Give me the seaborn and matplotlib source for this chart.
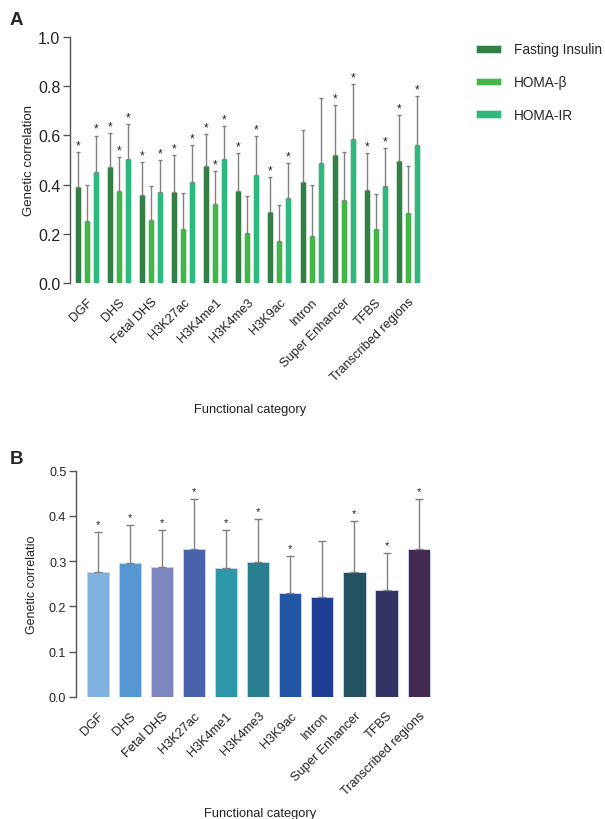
import numpy as np
import pandas as pd
import seaborn as sns
import matplotlib.pyplot as plt

# functional categories (shared by both panels)
categories = ['DGF', 'DHS', 'Fetal DHS', 'H3K27ac', 'H3K4me1', 'H3K4me3',
              'H3K9ac', 'Intron', 'Super Enhancer', 'TFBS', 'Transcribed regions']

# panel A: three traits
traits = ['Fasting Insulin', 'HOMA-β', 'HOMA-IR']
fi_val = [0.389, 0.473, 0.359, 0.371, 0.476, 0.373, 0.290, 0.409, 0.522, 0.378, 0.495]
fi_up = [0.531, 0.608, 0.493, 0.519, 0.607, 0.528, 0.431, 0.622, 0.722, 0.527, 0.682]
fi_sig = [1, 1, 1, 1, 1, 1, 1, 0, 1, 1, 1]
beta_val = [0.253, 0.374, 0.256, 0.220, 0.321, 0.203, 0.170, 0.190, 0.336, 0.220, 0.286]
beta_up = [0.397, 0.512, 0.396, 0.367, 0.455, 0.352, 0.317, 0.400, 0.533, 0.362, 0.477]
beta_sig = [0, 1, 0, 0, 1, 0, 0, 0, 0, 0, 0]
ir_val = [0.451, 0.503, 0.370, 0.412, 0.505, 0.438, 0.344, 0.488, 0.587, 0.394, 0.561]
ir_up = [0.599, 0.645, 0.501, 0.561, 0.637, 0.596, 0.489, 0.752, 0.808, 0.549, 0.760]
ir_sig = [1, 1, 1, 1, 1, 1, 1, 0, 1, 1, 1]

# panel B: combined
b_val = [0.277, 0.296, 0.288, 0.327, 0.285, 0.298, 0.229, 0.220, 0.277, 0.236, 0.327]
b_up = [0.364, 0.381, 0.370, 0.438, 0.369, 0.394, 0.312, 0.344, 0.389, 0.318, 0.438]
b_sig = [1, 1, 1, 1, 1, 1, 1, 0, 1, 1, 1]

green_cols = ['#337f45', '#45b54a', '#2cb87e']
blue_cols = ['#80b2e0', '#5696d2', '#7e86c0', '#4a61ab', '#2b97a8', '#287d8e',
             '#2256a4', '#1f3f97', '#225262', '#313363', '#42294f']

sns.set_style('ticks')
plt.rcParams['font.family'] = ['Liberation Sans', 'DejaVu Sans']
err_col = '#808080'

fig = plt.figure(figsize=(6.05, 8.2), dpi=100)
axA = fig.add_axes([0.1157, 0.6537, 0.585, 0.300])
axB = fig.add_axes([0.1256, 0.1491, 0.5876, 0.2756])

dfA = pd.DataFrame({
    'category': categories * 3,
    'trait': np.repeat(traits, len(categories)),
    'value': fi_val + beta_val + ir_val,
})
sns.barplot(data=dfA, x='category', y='value', hue='trait', palette=green_cols,
            saturation=1, width=0.84, gap=0.33, errorbar=None,
            edgecolor='#d8eedc', linewidth=0.5, ax=axA)

ups = [fi_up, beta_up, ir_up]
sigs = [fi_sig, beta_sig, ir_sig]
bar_groups = list(axA.containers)[:3]
for k, cont in enumerate(bar_groups):
    for j, bar in enumerate(list(cont)):
        x = bar.get_x() + bar.get_width() / 2
        top = bar.get_height()
        axA.errorbar([x], [top], yerr=[[0], [ups[k][j] - top]], fmt='none',
                     ecolor=err_col, elinewidth=1.0, capsize=1.6, capthick=1.0)
        if sigs[k][j]:
            axA.annotate('*', (x, ups[k][j]), xytext=(0, 0.5), textcoords='offset points',
                         ha='center', va='bottom', fontsize=8.5, color='#222222')

handles, labels = axA.get_legend_handles_labels()
axA.get_legend().remove()
fig.legend(handles[:3], labels[:3], loc='upper left', bbox_to_anchor=(0.787, 0.947),
           frameon=False, fontsize=9.8, handlelength=1.8, handleheight=0.5,
           labelspacing=1.38, handletextpad=1.0, borderpad=0, borderaxespad=0)

dfB = pd.DataFrame({'category': categories, 'value': b_val})
sns.barplot(data=dfB, x='category', y='value', hue='category', palette=blue_cols,
            saturation=1, legend=False, width=0.69, errorbar=None,
            edgecolor='#c9d3ee', linewidth=0.7, ax=axB)
for j, bar in enumerate(list(axB.patches)):
    x = bar.get_x() + bar.get_width() / 2
    top = bar.get_height()
    axB.errorbar([x], [top], yerr=[[0], [b_up[j] - top]], fmt='none',
                 ecolor=err_col, elinewidth=1.0, capsize=3.2, capthick=1.0)
    if b_sig[j]:
        axB.annotate('*', (x, b_up[j]), xytext=(0, 2), textcoords='offset points',
                     ha='center', va='bottom', fontsize=8, color='#222222')

for ax, ylim, yt, tfs, lab, lx, xl in [
        (axA, (0, 1.0), np.arange(0, 1.01, 0.2), 11.5, 'Genetic correlation', -0.098, 0.508),
        (axB, (0, 0.5), np.arange(0, 0.51, 0.1), 9, 'Genetic correlatio', -0.108, 0.518)]:
    ax.set_ylim(*ylim)
    ax.set_yticks(yt)
    ax.set_yticklabels([f'{v:.1f}' for v in yt], fontsize=tfs, color='#222222')
    ax.set_xlim(-0.524 if ax is axA else -0.676, 10.5 if ax is axA else 10.4)
    ax.spines['top'].set_visible(False)
    ax.spines['right'].set_visible(False)
    ax.spines['bottom'].set_visible(False)
    ax.spines['left'].set_color('#555555')
    ax.spines['left'].set_linewidth(1.0)
    ax.tick_params(axis='y', length=5, width=1.0, color='#555555', pad=2)
    ax.tick_params(axis='x', length=0, pad=9)
    ax.set_xticks(range(len(categories)))
    ax.set_xticklabels(categories, rotation=45, ha='right', rotation_mode='anchor',
                       fontsize=9.2, color='#222222')
    ax.set_ylabel(lab, fontsize=9.5 if ax is axA else 9, color='#222222')
    ax.yaxis.set_label_coords(lx, 0.5)
    ax.set_xlabel('Functional category', fontsize=9.3, color='#222222', va='top')
    ax.xaxis.set_label_coords(xl, -0.488)

fig.text(10 / 605, 1 - 12 / 820, 'A', fontsize=13.5, fontweight='bold', va='top')
fig.text(10 / 605, 1 - 451 / 820, 'B', fontsize=13.5, fontweight='bold', va='top')

fig.savefig('out.png', dpi=100)
